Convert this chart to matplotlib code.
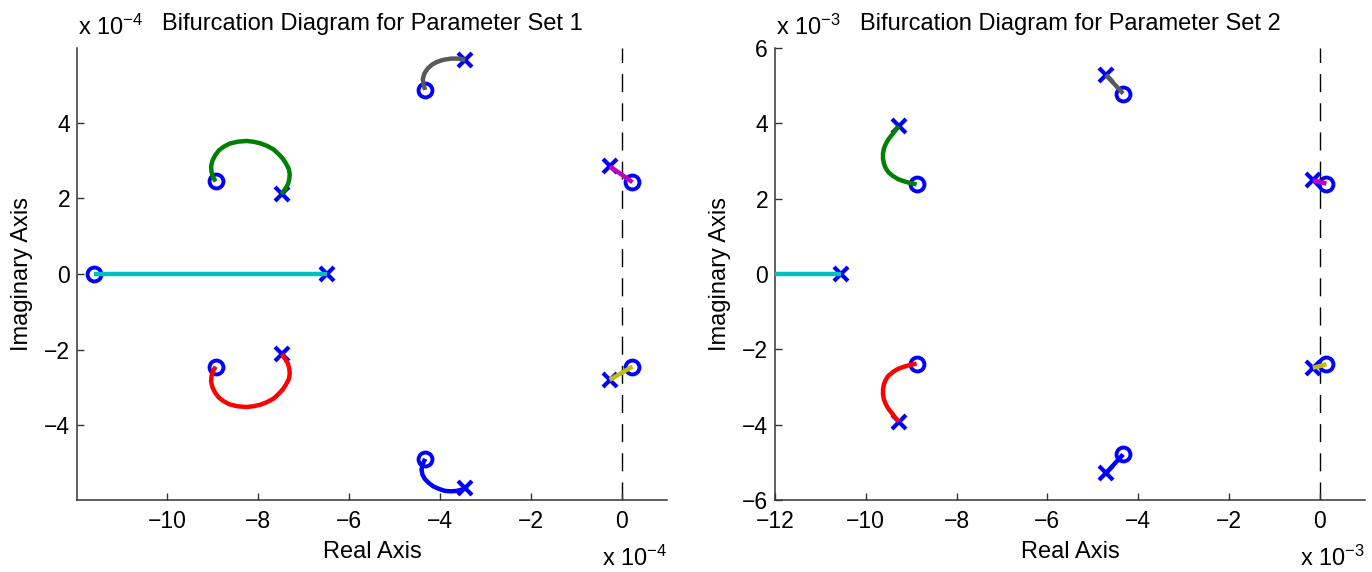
import matplotlib
matplotlib.use("Agg")
import matplotlib.pyplot as plt

plt.rcParams['font.family'] = ['Liberation Sans', 'DejaVu Sans']
plt.rcParams['mathtext.fontset'] = 'custom'
plt.rcParams['mathtext.rm'] = 'Liberation Sans'
plt.rcParams['mathtext.it'] = 'Liberation Sans:italic'
plt.rcParams['mathtext.bf'] = 'Liberation Sans:bold'

# ---------------- data: Parameter Set 1 (units of 1e-4); first point = 'o', last = 'x'
cyan1_re = [-11.60, -6.48]
cyan1_im = [0.0, 0.0]
green1_re = [-8.93, -8.99, -9.02, -9.03, -9.00, -8.94, -8.86, -8.75, -8.62, -8.45, -8.25, -8.10, -7.95,
             -7.80, -7.66, -7.55, -7.45, -7.38, -7.32, -7.30, -7.31, -7.34, -7.40, -7.48]
green1_im = [2.45, 2.57, 2.70, 2.85, 3.00, 3.14, 3.27, 3.37, 3.45, 3.50, 3.52, 3.50, 3.46,
             3.39, 3.30, 3.18, 3.05, 2.92, 2.78, 2.64, 2.50, 2.37, 2.25, 2.12]
red1_re = [-8.93, -8.99, -9.02, -9.03, -9.00, -8.94, -8.86, -8.75, -8.62, -8.45, -8.25, -8.10, -7.95,
           -7.80, -7.66, -7.55, -7.45, -7.38, -7.32, -7.30, -7.31, -7.34, -7.40, -7.48]
red1_im = [-2.45, -2.57, -2.70, -2.85, -3.00, -3.14, -3.27, -3.37, -3.45, -3.50, -3.52, -3.50, -3.46,
           -3.39, -3.30, -3.18, -3.05, -2.92, -2.78, -2.64, -2.50, -2.37, -2.25, -2.12]
gray1_re = [-4.32, -4.36, -4.37, -4.34, -4.27, -4.18, -4.08, -3.97, -3.86, -3.74, -3.63, -3.53, -3.44]
gray1_im = [4.87, 5.02, 5.16, 5.30, 5.43, 5.53, 5.60, 5.65, 5.68, 5.70, 5.70, 5.69, 5.66]
blue1_re = [-4.32, -4.38, -4.40, -4.38, -4.33, -4.24, -4.14, -4.01, -3.88, -3.75, -3.63, -3.53, -3.44]
blue1_im = [-4.89, -5.04, -5.18, -5.31, -5.42, -5.53, -5.62, -5.69, -5.74, -5.75, -5.74, -5.71, -5.67]
magenta1_re = [0.24, -0.26]
magenta1_im = [2.43, 2.85]
yellow1_re = [0.24, -0.26]
yellow1_im = [-2.45, -2.80]

# ---------------- data: Parameter Set 2 (units of 1e-3)
cyan2_re = [-12.60, -10.54]
cyan2_im = [0.0, 0.0]
green2_re = [-8.88, -8.97, -9.07, -9.18, -9.29, -9.40, -9.50, -9.56, -9.60, -9.62, -9.62, -9.60, -9.56,
             -9.50, -9.42, -9.35, -9.27]
green2_im = [2.38, 2.40, 2.43, 2.47, 2.52, 2.60, 2.70, 2.81, 2.93, 3.06, 3.20, 3.33, 3.45,
             3.58, 3.70, 3.81, 3.92]
red2_re = [-8.88, -8.97, -9.07, -9.18, -9.29, -9.40, -9.50, -9.56, -9.60, -9.62, -9.62, -9.60, -9.56,
           -9.50, -9.42, -9.35, -9.27]
red2_im = [-2.38, -2.40, -2.43, -2.47, -2.52, -2.60, -2.70, -2.81, -2.93, -3.06, -3.20, -3.33, -3.45,
           -3.58, -3.70, -3.81, -3.92]
gray2_re = [-4.33, -4.71]
gray2_im = [4.79, 5.29]
blue2_re = [-4.33, -4.71]
blue2_im = [-4.79, -5.29]
magenta2_re = [0.15, -0.15]
magenta2_im = [2.40, 2.49]
yellow2_re = [0.15, -0.15]
yellow2_im = [-2.40, -2.49]

titles = ["Bifurcation Diagram for Parameter Set 1", "Bifurcation Diagram for Parameter Set 2"]
exponents = ["-4", "-3"]
xticks1 = [-10, -8, -6, -4, -2, 0]
yticks1 = [-4, -2, 0, 2, 4]
xticks2 = [-12, -10, -8, -6, -4, -2, 0]
yticks2 = [-6, -4, -2, 0, 2, 4, 6]

C_CYAN = (0.0, 0.75, 0.75)
C_GREEN = (0.0, 0.5, 0.0)
C_RED = (1.0, 0.0, 0.0)
C_GRAY = (0.35, 0.35, 0.35)
C_BLUE = (0.0, 0.0, 1.0)
C_MAG = (0.75, 0.0, 0.75)
C_YEL = (0.75, 0.75, 0.0)

sets = [
    [(cyan1_re, cyan1_im, C_CYAN), (green1_re, green1_im, C_GREEN), (red1_re, red1_im, C_RED),
     (gray1_re, gray1_im, C_GRAY), (blue1_re, blue1_im, C_BLUE), (magenta1_re, magenta1_im, C_MAG),
     (yellow1_re, yellow1_im, C_YEL)],
    [(cyan2_re, cyan2_im, C_CYAN), (green2_re, green2_im, C_GREEN), (red2_re, red2_im, C_RED),
     (gray2_re, gray2_im, C_GRAY), (blue2_re, blue2_im, C_BLUE), (magenta2_re, magenta2_im, C_MAG),
     (yellow2_re, yellow2_im, C_YEL)],
]

W, H = 1372, 572
fig = plt.figure(figsize=(W / 100, H / 100), dpi=100)

axes_px = [(77, 667), (775, 1365)]
top_px, bot_px = 48, 500
limits = [((-11.98, 1.0), (-5.98, 5.98)), ((-12.0, 1.0), (-6.0, 6.0))]
ticks = [(xticks1, yticks1), (xticks2, yticks2)]
ylabel_x = [22, 720]

FS = 17
TFS = 16.5
spine_col = (0.2, 0.2, 0.2)

for i in range(2):
    x0, x1 = axes_px[i]
    ax = fig.add_axes([x0 / W, (H - bot_px) / H, (x1 - x0) / W, (bot_px - top_px) / H])
    ax.set_xlim(*limits[i][0])
    ax.set_ylim(*limits[i][1])
    ax.spines['top'].set_visible(False)
    ax.spines['right'].set_visible(False)
    for s in ('left', 'bottom'):
        ax.spines[s].set_color(spine_col)
        ax.spines[s].set_linewidth(1.1)
    ax.set_xticks(ticks[i][0])
    ax.set_yticks(ticks[i][1])
    ax.set_xticklabels([str(t).replace('-', '\u2212') for t in ticks[i][0]])
    ax.set_yticklabels([str(t).replace('-', '\u2212') for t in ticks[i][1]])
    ax.tick_params(direction='in', length=5, width=1.0, color=spine_col, labelsize=TFS)
    ax.tick_params(axis='x', pad=7.5)
    ax.tick_params(axis='y', pad=5)

    ax.axvline(0, color='black', lw=1.0, linestyle=(0, (13, 8)), zorder=1)

    for re, im, col in sets[i]:
        ax.plot(re[0], im[0], marker='o', ms=10, mew=2.8, mfc='none', mec=C_BLUE, ls='none', zorder=2)
        ax.plot(re[-1], im[-1], marker='x', ms=9.5, mew=3.0, mec=C_BLUE, ls='none', zorder=2)
        ax.plot(re, im, color=col, lw=3.2, solid_capstyle='butt', solid_joinstyle='round', zorder=3)

    cx = (x0 + x1) / 2 / W
    fig.text(cx, (H - 30) / H, titles[i], ha='center', va='baseline', fontsize=FS)
    fig.text(x0 / W + 0.0008, (H - 35) / H, r'x 10$^{\mathregular{' + exponents[i] + '}}$',
             ha='left', va='baseline', fontsize=FS)
    fig.text(x1 / W, (H - 566) / H, r'x 10$^{\mathregular{' + exponents[i] + '}}$',
             ha='right', va='baseline', fontsize=FS)
    fig.text(cx, (H - 558) / H, "Real Axis", ha='center', va='baseline', fontsize=FS)
    fig.text(ylabel_x[i] / W, (H - (top_px + bot_px) / 2) / H, "Imaginary Axis",
             ha='center', va='center', rotation=90, fontsize=FS)

fig.savefig("out.png", dpi=100)
